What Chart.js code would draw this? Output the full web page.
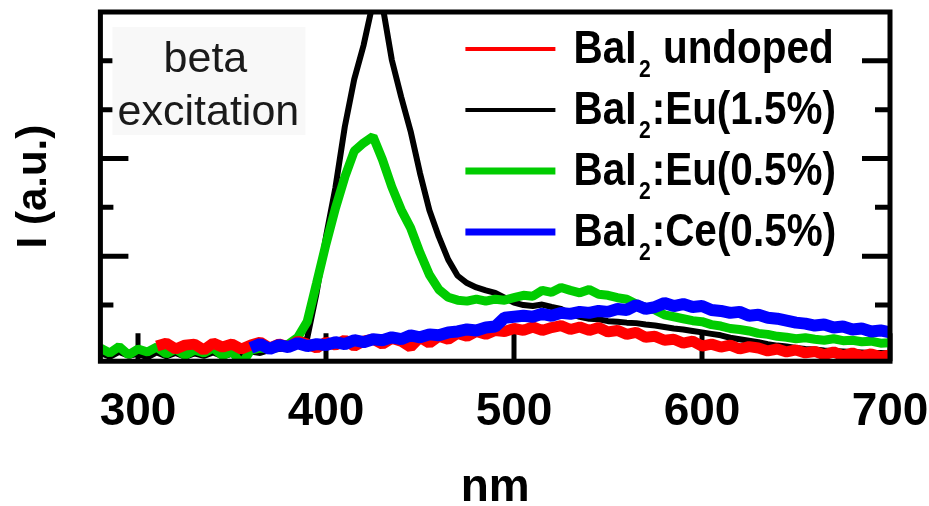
<!DOCTYPE html>
<html>
<head>
<meta charset="utf-8">
<script src="https://cdn.jsdelivr.net/npm/chart.js@4"></script>
<style>
  body { margin: 0; background: #fff; }
  canvas { display: block; }
</style>
</head>
<body>
<canvas id="myChart" width="929" height="506"></canvas>
<script>
// emission wavelength grid (nm), 5 nm steps
const wavelength = [
  280, 285, 290, 295, 300, 305, 310, 315, 320, 325,
  330, 335, 340, 345, 350, 355, 360, 365, 370, 375,
  380, 385, 390, 395, 400, 405, 410, 415, 420, 425,
  430, 435, 440, 445, 450, 455, 460, 465, 470, 475,
  480, 485, 490, 495, 500, 505, 510, 515, 520, 525,
  530, 535, 540, 545, 550, 555, 560, 565, 570, 575,
  580, 585, 590, 595, 600, 605, 610, 615, 620, 625,
  630, 635, 640, 645, 650, 655, 660, 665, 670, 675,
  680, 685, 690, 695, 700
]

// intensities (a.u.)
const undoped = [
  null, null, null, null, null, null, 0.16, 0.22, 0.10, 0.18,
  0.20, 0.08, 0.22, 0.14, 0.20, 0.10, 0.18, 0.24, 0.12, 0.20,
  0.14, 0.26, 0.20, 0.12, 0.24, 0.18, 0.28, 0.16, 0.26, 0.30,
  0.20, 0.32, 0.26, 0.14, 0.34, 0.22, 0.36, 0.30, 0.42, 0.36,
  0.46, 0.40, 0.48, 0.46, 0.52, 0.48, 0.55, 0.48, 0.54, 0.58,
  0.50, 0.55, 0.48, 0.54, 0.45, 0.48, 0.40, 0.44, 0.34, 0.36,
  0.28, 0.30, 0.22, 0.26, 0.16, 0.20, 0.14, 0.18, 0.10, 0.15,
  0.12, 0.06, 0.10, 0.04, 0.08, 0.02, 0.05, -0.02, 0.04, -0.04,
  0.02, -0.05, 0.00, -0.06, -0.02
]
const eu15 = [
  0.02, -0.06, 0.04, -0.04, 0.00, -0.07, 0.03, -0.05, 0.02, -0.06,
  0.01, -0.04, 0.03, -0.05, 0.00, -0.03, 0.05, 0.02, 0.08, 0.10,
  0.12, 0.18, 0.32, 1.25, 2.40, 3.40, 4.65, 5.62, 6.32, 7.20,
  7.15, 6.02, 5.26, 4.56, 3.70, 2.94, 2.40, 1.93, 1.60, 1.45,
  1.36, 1.30, 1.25, 1.15, 1.05, 1.00, 0.98, 1.01, 0.96, 0.92,
  0.82, 0.76, 0.72, 0.71, 0.67, 0.66, 0.64, 0.63, 0.60, 0.58,
  0.55, 0.52, 0.50, 0.47, 0.44, 0.41, 0.38, 0.33, 0.30, 0.27,
  0.24, 0.20, 0.17, 0.15, 0.12, 0.10, 0.09, 0.07, 0.06, 0.05,
  0.04, 0.03, 0.02, 0.02, 0.01
]
const eu05 = [
  0.12, 0.02, 0.15, -0.02, 0.10, 0.04, 0.14, 0.00, 0.10, -0.03,
  0.08, 0.02, 0.12, -0.04, 0.06, -0.22, 0.08, 0.12, 0.10, 0.16,
  0.20, 0.34, 0.66, 1.45, 2.25, 2.98, 3.62, 4.15, 4.32, 4.45,
  3.98, 3.42, 2.95, 2.58, 2.07, 1.62, 1.32, 1.16, 1.10, 1.08,
  1.12, 1.08, 1.12, 1.10, 1.15, 1.20, 1.18, 1.30, 1.26, 1.36,
  1.30, 1.25, 1.32, 1.22, 1.20, 1.15, 1.12, 1.02, 0.95, 0.90,
  0.80, 0.76, 0.72, 0.68, 0.66, 0.60, 0.57, 0.52, 0.50, 0.47,
  0.42, 0.40, 0.36, 0.34, 0.31, 0.33, 0.30, 0.28, 0.31, 0.27,
  0.28, 0.25, 0.26, 0.22, 0.23
]
const ce05 = [
  null, null, null, null, null, null, null, null, null, null,
  null, null, null, null, null, null, 0.12, 0.20, 0.10, 0.18,
  0.14, 0.22, 0.16, 0.20, 0.18, 0.24, 0.20, 0.28, 0.24, 0.30,
  0.28, 0.34, 0.30, 0.38, 0.34, 0.40, 0.38, 0.44, 0.46, 0.50,
  0.48, 0.54, 0.56, 0.74, 0.76, 0.78, 0.76, 0.82, 0.78, 0.84,
  0.82, 0.86, 0.84, 0.88, 0.86, 0.92, 0.90, 1.00, 0.92, 0.96,
  1.04, 0.98, 1.02, 0.96, 0.98, 0.90, 0.88, 0.84, 0.86, 0.78,
  0.80, 0.74, 0.72, 0.68, 0.64, 0.62, 0.58, 0.60, 0.54, 0.56,
  0.50, 0.52, 0.46, 0.48, 0.44
]

const labels = ["BaI₂ undoped", "BaI₂:Eu(1.5%)", "BaI₂:Eu(0.5%)", "BaI₂:Ce(0.5%)"]
const colors = ["#ff0000", "#000000", "#00cc00", "#0000ff"]

const xTicks = [300, 400, 500, 600, 700]
const yMajor = [2, 4, 6]
const yMinor = [1, 3, 5]

const fontFamily = '"Liberation Sans", Arial, sans-serif'
Chart.defaults.font.family = fontFamily
Chart.defaults.color = "#000"

function points(values){
    return wavelength.map((x, i) => ({x: x, y: values[i]}))
}

// frame, inward ticks, legend and the inset note
const decor = {
    id: "decor",
    beforeDatasetsDraw(chart){
        const {ctx, chartArea: a, scales: {x, y}} = chart
        ctx.save()
        ctx.strokeStyle = "#000"
        ctx.lineWidth = 5
        ctx.beginPath()
        xTicks.forEach(v => {
            let px = x.getPixelForValue(v)
            ctx.moveTo(px, a.bottom)
            ctx.lineTo(px, a.bottom - 28)
        })
        yMajor.forEach(v => {
            let py = y.getPixelForValue(v)
            ctx.moveTo(a.left, py); ctx.lineTo(a.left + 28, py)
            ctx.moveTo(a.right, py); ctx.lineTo(a.right - 28, py)
        })
        yMinor.forEach(v => {
            let py = y.getPixelForValue(v)
            ctx.moveTo(a.left, py); ctx.lineTo(a.left + 13, py)
            ctx.moveTo(a.right, py); ctx.lineTo(a.right - 15, py)
        })
        ctx.stroke()

        // inset note
        ctx.fillStyle = "#f8f8f8"
        ctx.fillRect(a.left + 12, a.top + 15, 193, 108)
        ctx.fillStyle = "#1a1a1a"
        ctx.font = "43px " + fontFamily
        ctx.textAlign = "center"
        ctx.textBaseline = "alphabetic"
        ctx.fillText("beta", a.left + 105, a.top + 60)
        ctx.fillText("excitation", a.left + 108, a.top + 113)
        ctx.restore()
    },
    afterDatasetsDraw(chart){
        const {ctx, chartArea: a} = chart
        ctx.save()
        ctx.strokeStyle = "#000"
        ctx.lineWidth = 5
        ctx.strokeRect(a.left, a.top, a.right - a.left, a.bottom - a.top)

        chart.data.datasets.forEach((ds, i) => {
            let rowY = a.top + 37 + i * 61
            ctx.strokeStyle = ds.borderColor
            ctx.lineWidth = i < 2 ? 4 : 7
            ctx.beginPath()
            ctx.moveTo(a.left + 365, rowY)
            ctx.lineTo(a.left + 455, rowY)
            ctx.stroke()

            let parts = ds.label.split("₂")
            ctx.save()
            ctx.translate(a.left + 473, rowY + 14)
            ctx.scale(0.88, 1)
            ctx.fillStyle = "#000"
            ctx.textAlign = "left"
            ctx.textBaseline = "alphabetic"
            ctx.font = "bold 46px " + fontFamily
            ctx.fillText(parts[0], 0, 0)
            let w = ctx.measureText(parts[0]).width + 3
            ctx.font = "bold 24px " + fontFamily
            ctx.fillText("2", w, 14)
            w += ctx.measureText("2").width + 1
            ctx.font = "bold 46px " + fontFamily
            ctx.fillText(parts[1], w, 0)
            ctx.restore()
        })
        ctx.restore()
    }
}

const ctx = document.getElementById("myChart")
new Chart(ctx, {
    type: "line",
    data: {
        datasets: [
            {label: labels[0], data: points(undoped), borderColor: colors[0], borderWidth: 11, order: 1},
            {label: labels[1], data: points(eu15), borderColor: colors[1], borderWidth: 6, order: 3},
            {label: labels[2], data: points(eu05), borderColor: colors[2], borderWidth: 9, order: 2},
            {label: labels[3], data: points(ce05), borderColor: colors[3], borderWidth: 12, order: 0}
        ]
    },
    options: {
        responsive: false,
        animation: false,
        devicePixelRatio: 1,
        layout: {padding: {top: 12, right: 39, bottom: 0, left: 0}},
        elements: {point: {radius: 0}, line: {tension: 0, fill: false, borderJoinStyle: "bevel"}},
        plugins: {legend: {display: false}, tooltip: {enabled: false}},
        scales: {
            x: {
                type: "linear",
                min: 280,
                max: 700,
                afterBuildTicks: s => { s.ticks = xTicks.map(v => ({value: v})) },
                ticks: {font: {size: 46, weight: "bold", lineHeight: 2.23}, color: "#000", padding: 0, maxRotation: 0, autoSkip: false},
                grid: {display: false, drawTicks: false},
                border: {display: false},
                title: {display: true, text: "nm", color: "#000",
                        font: {size: 46, weight: "bold", lineHeight: 0.7},
                        padding: {top: 8, bottom: 2}}
            },
            y: {
                type: "linear",
                min: -0.15,
                max: 7,
                ticks: {display: false},
                grid: {display: false, drawTicks: false},
                border: {display: false},
                title: {display: true, text: "I (a.u.)", color: "#000",
                        font: {size: 42, weight: "bold"},
                        padding: {top: 9, bottom: 41}}
            }
        }
    },
    plugins: [decor]
})
</script>
</body>
</html>
